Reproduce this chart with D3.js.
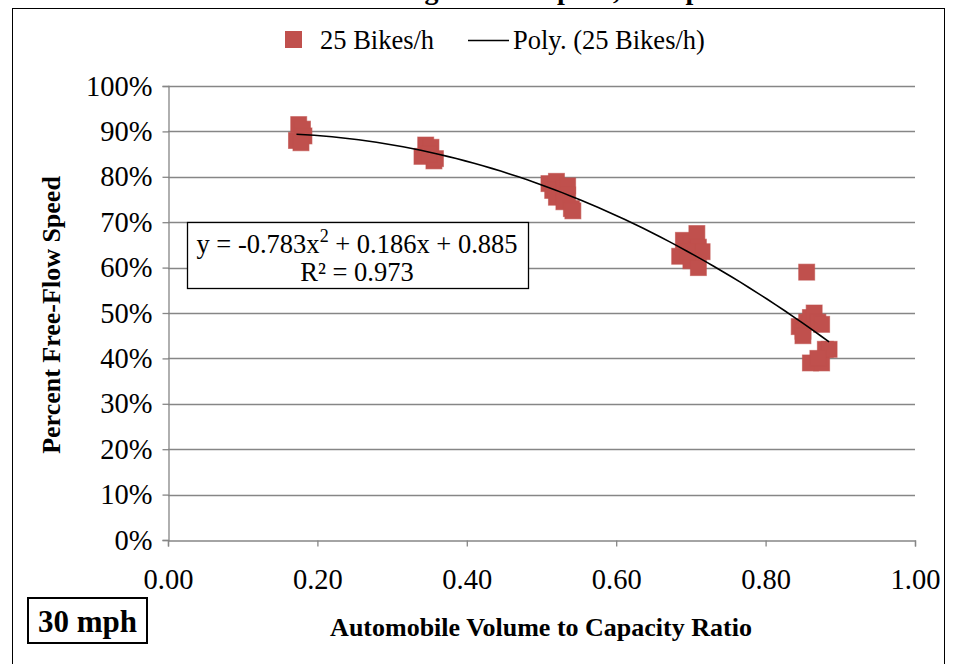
<!DOCTYPE html>
<html>
<head>
<meta charset="utf-8">
<script src="https://cdn.jsdelivr.net/npm/d3@7"></script>
<style>
  body { margin: 0; background: #fff; }
  svg { display: block; }
  svg text { font-family: "Liberation Serif", "Times New Roman", serif; }
</style>
</head>
<body>
<div id="chart"></div>
<script>
// observed points, 25 bikes/h
const vcRatio = [
  0.175, 0.180, 0.172, 0.182, 0.178,
  0.345, 0.352, 0.340, 0.356, 0.358, 0.350,
  0.510, 0.520, 0.515, 0.520, 0.530, 0.535, 0.535, 0.530, 0.540, 0.542,
  0.685, 0.690, 0.700, 0.708, 0.710, 0.715, 0.700, 0.710, 0.695,
  0.845, 0.850, 0.855, 0.860, 0.865, 0.870, 0.875, 0.860, 0.875, 0.880, 0.885, 0.855, 0.850, 0.870
];
const pctFfs = [
  0.915, 0.905, 0.880, 0.890, 0.875,
  0.870, 0.865, 0.845, 0.835, 0.840, 0.850,
  0.785, 0.790, 0.770, 0.755, 0.775, 0.780, 0.760, 0.745, 0.730, 0.725,
  0.625, 0.660, 0.655, 0.675, 0.645, 0.635, 0.615, 0.600, 0.635,
  0.470, 0.460, 0.480, 0.490, 0.500, 0.480, 0.475, 0.390, 0.390, 0.420, 0.420, 0.590, 0.450, 0.400
];
// trendline coefficients
const polyCoef = [-0.783, 0.186, 0.885];
const xTicks = [0, 0.2, 0.4, 0.6, 0.8, 1.0];
const yTicks = [0, 0.1, 0.2, 0.3, 0.4, 0.5, 0.6, 0.7, 0.8, 0.9, 1.0];

const W = 953, H = 664;
const margin = {left: 168, right: 38, top: 86, bottom: 124};
const red = "#c0504d";
const serif = "Liberation Serif, Times New Roman, serif";

const svg = d3.select("#chart").append("svg")
  .attr("width", W)
  .attr("height", H);

// title, cut off by the top of the frame
svg.append("text")
  .attr("x", 535).attr("y", -1)
  .attr("text-anchor", "middle")
  .attr("font-family", serif)
  .attr("font-weight", "bold")
  .attr("font-size", 28)
  .text("Average Travel Speed, 30 mph");

// outer chart frame
svg.append("rect")
  .attr("x", 12.5).attr("y", 8.5)
  .attr("width", 932).attr("height", 700)
  .attr("fill", "none")
  .attr("stroke", "#000")
  .attr("stroke-width", 1);

const x = d3.scaleLinear().domain([0, 1]).range([margin.left, W - margin.right]);
const y = d3.scaleLinear().domain([0, 1]).range([H - margin.bottom, margin.top]);

// gridlines
svg.append("g")
  .selectAll("line")
  .data(yTicks.filter(d => d > 0))
  .enter()
  .append("line")
  .attr("x1", x(0)).attr("x2", x(1))
  .attr("y1", d => Math.round(y(d)) + 0.5)
  .attr("y2", d => Math.round(y(d)) + 0.5)
  .attr("stroke", "#868686")
  .attr("stroke-width", 1.3);

let xAxis = d3.axisBottom(x).tickValues(xTicks).tickSize(6).tickPadding(6)
  .tickFormat(d3.format(".2f"));
let yAxis = d3.axisLeft(y).tickValues(yTicks).tickSize(6).tickPadding(10)
  .tickFormat(d3.format(".0%"));

let gX = svg.append("g")
  .attr("transform", "translate(0," + (Math.round(y(0)) + 0.5) + ")")
  .call(xAxis);
let gY = svg.append("g")
  .attr("transform", "translate(" + (Math.round(x(0)) + 0.5) + ",0)")
  .call(yAxis);

[gX, gY].forEach(g => {
  g.attr("font-family", serif);
  g.select(".domain").attr("stroke", "#868686").attr("stroke-width", 1.3);
  g.selectAll(".tick line").attr("stroke", "#868686").attr("stroke-width", 1.3);
  g.selectAll(".tick text")
    .attr("fill", "#000")
    .attr("font-size", 28.5)
    .attr("font-family", serif);
});
gX.selectAll(".tick text").attr("dy", 36);

// markers
const ms = 16;
svg.append("g")
  .selectAll("rect")
  .data(vcRatio.map((v, i) => [v, pctFfs[i]]))
  .enter()
  .append("rect")
  .attr("x", d => x(d[0]) - ms / 2)
  .attr("y", d => y(d[1]) - ms / 2)
  .attr("width", ms)
  .attr("height", ms)
  .attr("fill", red)
  .attr("stroke", red)
  .attr("stroke-opacity", 0.6)
  .attr("stroke-width", 1);

// polynomial trendline over the range of the data
const x0 = d3.min(vcRatio), x1 = d3.max(vcRatio);
const trend = d3.range(0, 61).map(i => {
  let v = x0 + (x1 - x0) * i / 60;
  return [v, polyCoef[0] * v * v + polyCoef[1] * v + polyCoef[2]];
});
svg.append("path")
  .datum(trend)
  .attr("fill", "none")
  .attr("stroke", "#000")
  .attr("stroke-width", 1.6)
  .attr("d", d3.line().x(d => x(d[0])).y(d => y(d[1])));

// equation box
svg.append("rect")
  .attr("x", 187.5).attr("y", 222.5)
  .attr("width", 341).attr("height", 66)
  .attr("fill", "#fff")
  .attr("stroke", "#000")
  .attr("stroke-width", 1.3);
let eq = svg.append("text")
  .attr("x", 357).attr("y", 253)
  .attr("text-anchor", "middle")
  .attr("font-family", serif)
  .attr("font-size", 26.5);
eq.append("tspan").text("y = -0.783x");
eq.append("tspan").attr("dy", -11).attr("font-size", 18).text("2");
eq.append("tspan").attr("dy", 11).text(" + 0.186x + 0.885");
svg.append("text")
  .attr("x", 357).attr("y", 281)
  .attr("text-anchor", "middle")
  .attr("font-family", serif)
  .attr("font-size", 26.5)
  .text("R² = 0.973");

// legend
svg.append("rect")
  .attr("x", 285).attr("y", 31)
  .attr("width", 17).attr("height", 17)
  .attr("fill", red);
svg.append("text")
  .attr("x", 320).attr("y", 49)
  .attr("font-family", serif)
  .attr("font-size", 26.5)
  .text("25 Bikes/h");
svg.append("line")
  .attr("x1", 468).attr("x2", 509)
  .attr("y1", 40.5).attr("y2", 40.5)
  .attr("stroke", "#000")
  .attr("stroke-width", 1.6);
svg.append("text")
  .attr("x", 513).attr("y", 49)
  .attr("font-family", serif)
  .attr("font-size", 26.5)
  .text("Poly. (25 Bikes/h)");

// axis titles
svg.append("text")
  .attr("x", 541).attr("y", 636)
  .attr("text-anchor", "middle")
  .attr("font-family", serif)
  .attr("font-weight", "bold")
  .attr("font-size", 26)
  .text("Automobile Volume to Capacity Ratio");
svg.append("text")
  .attr("transform", "translate(60,315) rotate(-90)")
  .attr("text-anchor", "middle")
  .attr("font-family", serif)
  .attr("font-weight", "bold")
  .attr("font-size", 26)
  .text("Percent Free-Flow Speed");

// speed label
svg.append("rect")
  .attr("x", 28).attr("y", 598)
  .attr("width", 119).attr("height", 45)
  .attr("fill", "#fff")
  .attr("stroke", "#000")
  .attr("stroke-width", 2);
svg.append("text")
  .attr("x", 87.5).attr("y", 632)
  .attr("text-anchor", "middle")
  .attr("font-family", serif)
  .attr("font-weight", "bold")
  .attr("font-size", 31)
  .text("30 mph");
</script>
</body>
</html>
